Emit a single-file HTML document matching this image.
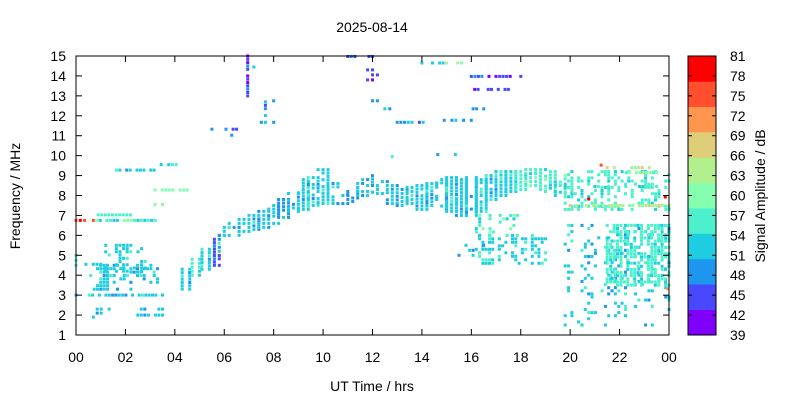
<!DOCTYPE html>
<html><head><meta charset="utf-8"><style>
body{margin:0;background:#fff;}
svg{display:block;font-family:"Liberation Sans",sans-serif;font-size:14px;}
</style></head><body>
<svg id="chart" width="800" height="400">
<text x="372" y="32" text-anchor="middle">2025-08-14</text>
<text x="372" y="391" text-anchor="middle">UT Time / hrs</text>
<text transform="translate(20,196) rotate(-90)" text-anchor="middle">Frequency / MHz</text>
<text transform="translate(765,196) rotate(-90)" text-anchor="middle">Signal Amplitude / dB</text>
<g id="marks"></g>
<g id="axes"></g>
<g id="cbar"></g>
</svg>
<script>
const xTicks=["00","02","04","06","08","10","12","14","16","18","20","22","00"];
const yTicks=[1,2,3,4,5,6,7,8,9,10,11,12,13,14,15];
const cbTicks=[39,42,45,48,51,54,57,60,63,66,69,72,75,78,81];
const cbColors=["#8000ff","#4848ff","#1e96f0","#1ecde0","#4cf0cc","#84ffb0","#b2f08e","#e0cd78","#ff9650","#ff4f2f","#ff0000"];
// blocks: [hourStart, hourEnd, freqLow, freqHigh, amplitude dB, fill density]
const blocks=[
[0.0,0.7,6.7,6.8,76,1],[0.7,3.2,6.7,6.8,57,0.8],[0.9,2.2,7.0,7.05,58,0.8],
[1.5,3.3,9.25,9.3,52,0.6],[3.2,4.5,8.25,8.3,60,0.6],[3.3,4.2,9.5,9.6,52,0.5],[3.2,3.5,7.5,7.6,60,0.6],
[0,0.2,4.5,5.0,58,0.7],[0,3.5,2.9,3.1,53,0.6],[0.6,3.3,3.3,4.5,53,0.35],[1.2,2.8,4.2,5.5,54,0.35],
[0.4,1.0,4.5,4.6,52,0.6],[2.5,3.5,2.0,2.3,52,0.5],[0.7,1.5,1.9,2.3,52,0.4],
[4.3,4.6,3.3,4.3,53,0.7],[4.7,5.0,4.0,4.8,55,0.8],[5.1,5.4,4.3,5.3,52,0.8],[5.6,5.8,4.5,5.8,46,0.8],[5.8,6.0,5.2,6.0,53,0.8],
[5.8,6.2,6.0,6.4,52,0.7],[6.2,6.6,6.0,6.6,52,0.7],[6.6,7.0,6.2,6.8,51,0.7],[7.0,7.4,6.3,7.0,52,0.7],
[7.4,7.8,6.4,7.2,51,0.7],[7.8,8.2,6.6,7.5,51,0.7],[8.2,8.6,6.9,7.8,50,0.7],[8.6,9.0,7.2,8.1,51,0.7],
[9.0,9.4,7.3,8.8,51,0.7],[9.4,9.8,7.5,8.9,52,0.7],[9.8,10.2,7.6,9.3,54,0.7],[10.2,10.6,7.6,8.6,52,0.5],
[10.6,11.0,7.4,8.2,50,0.5],[11.0,11.4,7.7,8.4,50,0.5],[11.4,11.8,8.0,8.8,51,0.6],[11.8,12.2,8.0,9.0,51,0.6],
[12.2,12.6,7.9,8.7,52,0.6],[12.6,13.0,7.6,8.5,51,0.6],[13.0,13.4,7.5,8.3,51,0.6],[13.4,13.8,7.6,8.4,52,0.6],
[13.8,14.2,7.3,8.5,51,0.7],[14.2,14.6,7.5,8.6,52,0.7],[14.6,15.0,7.3,8.8,51,0.8],[15.0,15.4,7.2,8.9,52,0.8],
[15.4,15.8,7.0,8.8,51,0.8],[15.8,16.2,7.0,8.9,52,0.8],[16.2,16.6,7.2,8.8,54,0.7],[16.6,17.0,7.8,9.0,53,0.7],
[17.0,17.4,8.0,9.2,54,0.7],[17.4,17.8,8.2,9.2,54,0.7],[17.8,18.2,8.3,9.2,55,0.7],[18.2,18.6,8.5,9.3,56,0.7],
[18.6,19.0,8.3,9.3,56,0.7],[19.0,19.4,8.2,9.2,55,0.6],[19.4,19.8,8.0,9.0,56,0.6],
[5.5,6.5,11.3,11.35,48,0.7],[6.0,6.3,11.0,11.05,52,0.6],[6.9,7.0,13.0,15,45,0.6],[7.2,7.4,14.4,14.5,52,0.6],
[7.5,8.0,11.5,12.7,48,0.25],[8.0,8.2,12.7,12.8,48,0.6],[11.0,12.0,14.95,15,44,0.6],[11.8,12.2,13.8,14.3,45,0.5],
[12.0,12.4,12.7,12.8,50,0.6],[12.5,12.7,12.3,12.4,48,0.6],[13.0,14.2,11.65,11.7,48,0.7],[14.0,15.0,14.6,14.7,53,0.5],
[15.0,15.6,14.6,14.7,62,0.6],[14.9,16.0,11.75,11.8,50,0.7],[16.0,18.0,13.95,14.0,44,0.7],[16.0,17.5,13.3,13.35,44,0.6],
[15.5,16.5,12.3,12.4,48,0.4],[12.8,13.2,9.9,10.0,55,0.6],[14.5,15.5,10.0,10.1,50,0.3],
[16.2,19.0,4.6,6.0,54,0.3],[15.5,16.5,5.0,5.5,52,0.3],[16.2,18.0,6.0,7.0,56,0.3],
[19.8,24,7.3,9.2,55,0.35],[19.8,24,1.5,6.5,53,0.15],[21.5,24,3.5,6.5,55,0.5],
[20,24,7.45,7.55,63,0.7],[21.5,23.2,9.35,9.45,63,0.6],[21,23.5,8.4,8.5,55,0.6],[22,23.5,9.1,9.2,60,0.6],
[20.7,20.8,7.8,7.85,78,1],[23.8,23.9,7.9,7.95,78,1],[23.9,24,3.3,3.35,75,1],[21.2,21.3,9.5,9.55,75,1]
];
const X0=76,X1=669,Y0=335,Y1=56;
const xs=h=>X0+h/24*(X1-X0);
const ys=f=>Y0-(f-1)/14*(Y0-Y1);
const ampColor=a=>cbColors[Math.max(0,Math.min(10,Math.floor((a-39)/(42/11))))];
function hash(i,j,k){let n=(i*374761393+j*668265263+k*2147483647)|0;n=(n^(n>>>13))*1274126177|0;n=n^(n>>>16);return (n>>>0)%1000/1000;}
const NS="http://www.w3.org/2000/svg";
const marks=document.getElementById('marks');
blocks.forEach((b,bi)=>{
  const [h0,h1,f0,f1,amp,d]=b;
  const nc=Math.max(1,Math.round((h1-h0)/0.13));
  const nr=Math.max(1,Math.round((f1-f0)/0.15));
  for(let i=0;i<nc;i++){
    const colD=hash(i,99,bi)<0.3?d*0.4:Math.min(1,d*1.3);
    for(let j=0;j<nr;j++){
    if(hash(i,j,bi)>=colD) continue;
    const h=nc>1?h0+(h1-h0)*i/(nc-1):(h0+h1)/2;
    const f=nr>1?f0+(f1-f0)*j/(nr-1):(f0+f1)/2;
    const q=hash(j,i,bi+500);
    const a=amp+(q<0.2?-3:q>0.85?3:0);
    const r=document.createElementNS(NS,'rect');
    r.setAttribute('x',(xs(h)-1.5).toFixed(1));
    r.setAttribute('y',(ys(f)-1.5).toFixed(1));
    r.setAttribute('width',3);r.setAttribute('height',3);
    r.setAttribute('fill',ampColor(a));
    
    
    marks.appendChild(r);
  }}
});
const ax=document.getElementById('axes');
let s=`<rect x="${X0}" y="${Y1}" width="${X1-X0}" height="${Y0-Y1}" fill="none" stroke="#000" stroke-width="1"/>`;
xTicks.forEach((t,i)=>{const x=xs(i*2);
 s+=`<line x1="${x}" y1="${Y0}" x2="${x}" y2="${Y0-6}" stroke="#000"/><line x1="${x}" y1="${Y1}" x2="${x}" y2="${Y1+6}" stroke="#000"/>`;
 s+=`<text x="${x}" y="362" text-anchor="middle">${t}</text>`;});
yTicks.forEach(t=>{const y=ys(t);
 s+=`<line x1="${X0}" y1="${y}" x2="${X0+6}" y2="${y}" stroke="#000"/><line x1="${X1}" y1="${y}" x2="${X1-6}" y2="${y}" stroke="#000"/>`;
 s+=`<text x="66" y="${y+5}" text-anchor="end">${t}</text>`;});
ax.innerHTML=s;
const cb=document.getElementById('cbar');
let c='';const CX=688,CW=28;const cy=v=>Y0-(v-39)/42*(Y0-Y1);
cbColors.forEach((col,i)=>{const v0=39+i*42/11,v1=39+(i+1)*42/11;
 c+=`<rect x="${CX}" y="${cy(v1)}" width="${CW}" height="${cy(v0)-cy(v1)+0.3}" fill="${col}"/>`;});
c+=`<rect x="${CX}" y="${Y1}" width="${CW}" height="${Y0-Y1}" fill="none" stroke="#000"/>`;
cbTicks.forEach(t=>{const y=cy(t);
 c+=`<line x1="${CX+CW-4}" y1="${y}" x2="${CX+CW}" y2="${y}" stroke="#000"/><line x1="${CX}" y1="${y}" x2="${CX+4}" y2="${y}" stroke="#000"/>`;
 c+=`<text x="730" y="${y+5}">${t}</text>`;});
cb.innerHTML=c;
</script>
</body></html>
